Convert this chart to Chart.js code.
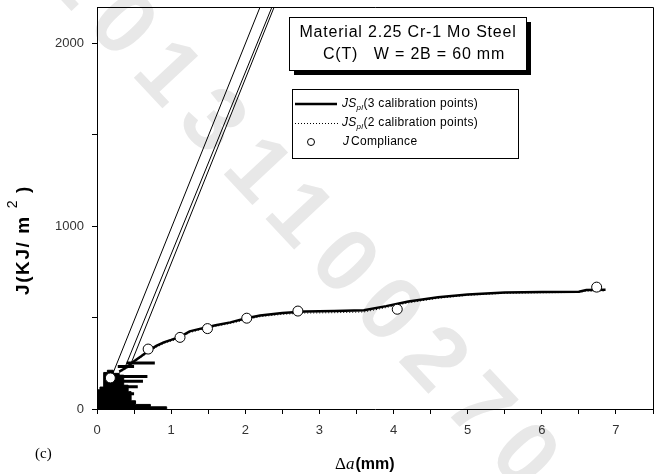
<!DOCTYPE html>
<html lang="en">
<head>
    <meta charset="UTF-8">
    <script src="https://cdn.jsdelivr.net/npm/chart.js"></script>
    <style>
        html, body { margin: 0; padding: 0; background: #fff; }
    </style>
</head>
<body>
    <canvas id="chart" width="662" height="474"></canvas>

    <script>
        // axis ticks
        const xTickLabels = [0, 1, 2, 3, 4, 5, 6, 7];
        const yTickValues = [0, 500, 1000, 1500, 2000];
        const yTickLabels = [0, 1000, 2000];

        // JSpl with 3 calibration points (solid)
        const curve3X = [0.30, 0.40, 0.50, 0.60, 0.70, 0.80, 0.90, 1.00, 1.12, 1.25, 1.40, 1.60, 1.80, 2.00, 2.20, 2.50, 2.80, 3.20, 3.60, 3.90, 4.20, 4.60, 5.00, 5.50, 6.00, 6.50, 6.60, 6.86];
        const curve3Y = [205, 228, 262, 290, 320, 345, 365, 378, 395, 425, 440, 458, 474, 495, 512, 526, 534, 537, 541, 563, 588, 611, 627, 637, 640, 642, 651, 652];

        // JSpl with 2 calibration points (dotted)
        const curve2X = curve3X;
        const curve2Y = [200, 222, 255, 285, 312, 338, 358, 372, 388, 418, 435, 452, 468, 488, 505, 518, 525, 527, 531, 555, 581, 606, 622, 633, 636, 638, 645, 646];

        // J from compliance
        const complianceX = [0.18, 0.69, 1.12, 1.49, 2.02, 2.71, 4.05, 6.74];
        const complianceY = [170, 328, 392, 440, 497, 536, 546, 667];

        // steep construction lines (start / end)
        const line1X = [0.17, 2.20], line1Y = [150, 2200];
        const line2X = [0.38, 2.36], line2Y = [230, 2200];
        const line3X = [0.44, 2.39], line3Y = [230, 2200];

        // raw data cloud near the origin: stepped envelope + horizontal streaks
        const cloudX = [0.00, 0.04, 0.09, 0.14, 0.22, 0.30, 0.36, 0.42, 0.46, 0.52, 0.72, 0.94];
        const cloudY = [105, 120, 200, 212, 195, 185, 130, 95, 45, 25, 12, 0];
        const streakY = [252, 232, 178, 152, 122, 84];
        const streakFrom = [0.40, 0.28, 0.30, 0.30, 0.30, 0.40];
        const streakTo = [0.78, 0.50, 0.68, 0.62, 0.55, 0.50];

        const pts = (xs, ys) => xs.map((x, i) => ({ x: x, y: ys[i] }));
        const streaks = [];
        streakY.forEach((y, i) => {
            streaks.push({ x: streakFrom[i], y: y }, { x: streakTo[i], y: y }, { x: streakTo[i], y: null });
        });

        const sans = "'Liberation Sans', Arial, sans-serif";
        const serif = "'Liberation Serif', 'Times New Roman', serif";

        const decor = {
            id: 'decor',
            beforeDraw(chart) {
                // faint diagonal watermark of the scan
                const ctx = chart.ctx;
                ctx.save();
                ctx.translate(58, -40);
                ctx.rotate(47 * Math.PI / 180);
                ctx.font = 'bold 90px ' + sans;
                ctx.letterSpacing = '16px';
                ctx.fillStyle = '#e8e8e8';
                ctx.textBaseline = 'middle';
                ctx.fillText('20131100270', 0, 0);
                ctx.restore();
            },
            afterDraw(chart) {
                const ctx = chart.ctx;
                const a = chart.chartArea;
                ctx.save();
                ctx.strokeStyle = '#000';
                ctx.lineWidth = 1;
                ctx.beginPath();
                ctx.moveTo(a.left, a.top + 0.5);
                ctx.lineTo(a.right + 0.5, a.top + 0.5);
                ctx.lineTo(a.right + 0.5, a.bottom);
                ctx.stroke();

                // material box with shadow
                ctx.fillStyle = '#000';
                ctx.fillRect(294, 22, 237, 53);
                ctx.fillStyle = '#fff';
                ctx.fillRect(289, 17, 237, 53);
                ctx.strokeRect(289.5, 17.5, 237, 53);
                ctx.fillStyle = '#000';
                ctx.font = '16px ' + sans;
                ctx.letterSpacing = '0.8px';
                ctx.textAlign = 'center';
                ctx.textBaseline = 'middle';
                ctx.fillText('Material 2.25 Cr-1 Mo Steel', 408, 33);
                ctx.fillText('C(T)   W = 2B = 60 mm', 414, 55);

                // legend
                ctx.letterSpacing = '0.3px';
                ctx.fillStyle = '#fff';
                ctx.fillRect(292, 89, 226, 69);
                ctx.strokeRect(292.5, 89.5, 226, 69);
                const rows = [104, 123, 142];
                ctx.strokeStyle = '#000';
                ctx.lineWidth = 2.5;
                ctx.beginPath(); ctx.moveTo(295, rows[0]); ctx.lineTo(337, rows[0]); ctx.stroke();
                ctx.lineWidth = 1;
                ctx.setLineDash([1, 2]);
                ctx.beginPath(); ctx.moveTo(295, rows[1] + 0.5); ctx.lineTo(339, rows[1] + 0.5); ctx.stroke();
                ctx.setLineDash([]);
                ctx.beginPath(); ctx.arc(311, rows[2], 3.5, 0, Math.PI * 2); ctx.stroke();

                ctx.fillStyle = '#000';
                ctx.textAlign = 'left';
                ctx.textBaseline = 'middle';
                ['3', '2'].forEach((n, i) => {
                    let x = 342;
                    ctx.font = 'italic 12px ' + sans;
                    ctx.fillText('JS', x, rows[i]);
                    x += ctx.measureText('JS').width;
                    ctx.font = 'italic 8px ' + sans;
                    ctx.fillText('pl', x, rows[i] + 4);
                    x += ctx.measureText('pl').width;
                    ctx.font = '12px ' + sans;
                    ctx.fillText('(' + n + ' calibration points)', x, rows[i]);
                });
                ctx.font = 'italic 12px ' + sans;
                ctx.fillText('J', 343, rows[2]);
                ctx.font = '12px ' + sans;
                ctx.fillText('Compliance', 351, rows[2]);

                // y axis title
                ctx.letterSpacing = '1.6px';
                ctx.save();
                ctx.translate(29, 240);
                ctx.rotate(-Math.PI / 2);
                ctx.textBaseline = 'alphabetic';
                const p1 = 'J(KJ/ m ', p2 = '2', p3 = ')';
                ctx.font = 'bold 19px ' + sans;
                const w1 = ctx.measureText(p1).width, w3 = ctx.measureText(p3).width;
                ctx.font = '14px ' + sans;
                const w2 = ctx.measureText(p2).width;
                let x0 = -(w1 + w2 + w3 + 6) / 2;
                ctx.font = 'bold 19px ' + sans;
                ctx.fillText(p1, x0, 0);
                ctx.font = '14px ' + sans;
                ctx.fillText(p2, x0 + w1, -12);
                ctx.font = 'bold 19px ' + sans;
                ctx.fillText(p3, x0 + w1 + w2 + 6, 0);
                ctx.restore();
                ctx.letterSpacing = '0px';

                // x axis title
                ctx.textBaseline = 'alphabetic';
                let xx = 335;
                ctx.font = '17px ' + serif;
                ctx.fillText('\u0394', xx, 469);
                xx += ctx.measureText('\u0394').width;
                ctx.font = 'italic 17px ' + serif;
                ctx.fillText('a', xx, 469);
                xx += ctx.measureText('a').width + 1;
                ctx.font = 'bold 16px ' + sans;
                ctx.fillText('(mm)', xx, 469);

                // panel label
                ctx.font = '15px ' + serif;
                ctx.fillText('(c)', 35, 458);
                ctx.restore();
            }
        };

        const ctx = document.getElementById('chart').getContext('2d');
        const chart = new Chart(ctx, {
            type: 'scatter',
            data: {
                datasets: [{
                    label: 'J Compliance',
                    data: pts(complianceX, complianceY),
                    pointRadius: 5,
                    pointBackgroundColor: '#fff',
                    pointBorderColor: '#000',
                    pointBorderWidth: 1,
                    showLine: false
                }, {
                    label: 'JSpl (3 calibration points)',
                    data: pts(curve3X, curve3Y),
                    showLine: true,
                    borderColor: '#000',
                    borderWidth: 2.5,
                    pointRadius: 0
                }, {
                    label: 'JSpl (2 calibration points)',
                    data: pts(curve2X, curve2Y),
                    showLine: true,
                    borderColor: '#000',
                    borderWidth: 1,
                    borderDash: [1, 2],
                    pointRadius: 0
                }, {
                    label: 'line 1',
                    data: pts(line1X, line1Y),
                    showLine: true, borderColor: '#000', borderWidth: 1, pointRadius: 0
                }, {
                    label: 'line 2',
                    data: pts(line2X, line2Y),
                    showLine: true, borderColor: '#000', borderWidth: 1, pointRadius: 0
                }, {
                    label: 'line 3',
                    data: pts(line3X, line3Y),
                    showLine: true, borderColor: '#000', borderWidth: 1, pointRadius: 0
                }, {
                    label: 'streaks',
                    data: streaks,
                    showLine: true, spanGaps: false, borderColor: '#000', borderWidth: 3, pointRadius: 0
                }, {
                    label: 'cloud',
                    data: pts(cloudX, cloudY),
                    showLine: true,
                    stepped: true,
                    fill: 'origin',
                    backgroundColor: '#000',
                    borderColor: '#000',
                    borderWidth: 1,
                    pointRadius: 0
                }]
            },
            options: {
                responsive: false,
                animation: false,
                devicePixelRatio: 1,
                layout: { padding: { top: 7, right: 9, left: 0, bottom: 0 } },
                plugins: { legend: { display: false }, tooltip: { enabled: false } },
                scales: {
                    x: {
                        type: 'linear',
                        min: 0,
                        max: 7.5,
                        afterFit: s => { s.height = 65; s.paddingLeft = 0; s.paddingRight = 0; },
                        border: { display: true, color: '#000', width: 1 },
                        grid: { drawOnChartArea: false, drawTicks: true, tickLength: 5, color: '#000' },
                        ticks: {
                            stepSize: 0.5,
                            autoSkip: false,
                            maxRotation: 0,
                            padding: 9,
                            color: '#333',
                            font: { family: sans, size: 13 },
                            callback: v => xTickLabels.includes(v) ? String(v) : ''
                        }
                    },
                    y: {
                        min: 0,
                        max: 2200,
                        afterFit: s => { s.width = 97; s.paddingTop = 0; s.paddingBottom = 0; },
                        afterBuildTicks: s => { s.ticks = yTickValues.map(v => ({ value: v })); },
                        border: { display: true, color: '#000', width: 1 },
                        grid: { drawOnChartArea: false, drawTicks: true, tickLength: 5, color: '#000' },
                        ticks: {
                            autoSkip: false,
                            padding: 8,
                            color: '#333',
                            font: { family: sans, size: 13 },
                            callback: v => yTickLabels.includes(v) ? String(v) : ''
                        }
                    }
                }
            },
            plugins: [decor]
        });
    </script>
</body>
</html>
